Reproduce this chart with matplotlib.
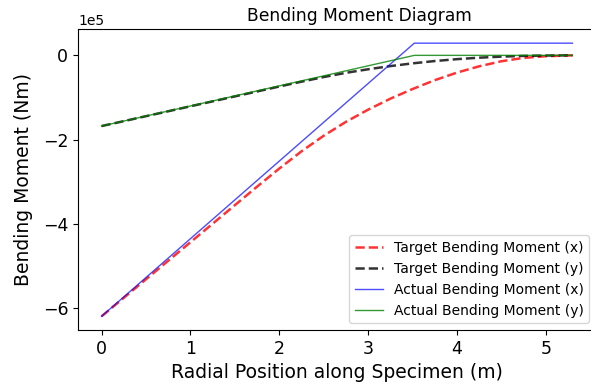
import matplotlib
matplotlib.use("Agg")
import matplotlib.pyplot as plt
from matplotlib.ticker import MultipleLocator
import numpy as np

# Radial stations along the specimen (m)
r_target = [0.0, 0.25, 0.5, 0.75, 1.0, 1.25, 1.5, 1.75, 2.0, 2.25, 2.5,
            2.75, 3.0, 3.25, 3.5, 3.75, 4.0, 4.25, 4.5, 4.75, 5.0, 5.3]
# Target bending moments (Nm)
m_target_x = [-6.20e5, -5.76e5, -5.32e5, -4.88e5, -4.44e5, -4.00e5, -3.56e5,
              -3.12e5, -2.69e5, -2.28e5, -1.91e5, -1.58e5, -1.29e5, -1.03e5,
              -0.80e5, -0.59e5, -0.41e5, -0.26e5, -0.14e5, -0.06e5, -0.02e5, 0.0]
m_target_y = [-1.680e5, -1.563e5, -1.445e5, -1.328e5, -1.210e5, -1.093e5,
              -0.975e5, -0.858e5, -0.740e5, -0.625e5, -0.515e5, -0.415e5,
              -0.330e5, -0.255e5, -0.190e5, -0.135e5, -0.090e5, -0.055e5,
              -0.030e5, -0.013e5, -0.004e5, 0.0]

# Actual bending moments (Nm), piecewise linear
r_actual = [0.0, 3.52, 5.3]
m_actual_x = [-6.20e5, 0.29e5, 0.29e5]
m_actual_y = [-1.68e5, 0.0, 0.0]

fig = plt.figure(figsize=(5.91, 3.89), dpi=100)
ax = fig.add_axes([78/591, 59/389, 518/591, 300.5/389])

ax.plot(r_target, m_target_x, '--', color='red', lw=1.8, alpha=0.8, label='Target Bending Moment (x)')
ax.plot(r_target, m_target_y, '--', color='black', lw=1.8, alpha=0.8, label='Target Bending Moment (y)')
ax.plot(r_actual, m_actual_x, color='blue', lw=1, alpha=0.7, label='Actual Bending Moment (x)')
ax.plot(r_actual, m_actual_y, color='green', lw=1, alpha=0.8, label='Actual Bending Moment (y)')

ax.yaxis.set_major_locator(MultipleLocator(2e5))
ax.ticklabel_format(style='sci', axis='y', scilimits=(0, 0))
ax.set_title('Bending Moment Diagram', fontsize=12.3, x=0.544)
ax.set_xlabel('Radial Position along Specimen (m)', fontsize=13.5)
ax.set_ylabel('Bending Moment (Nm)', fontsize=13.5, labelpad=7)
ax.tick_params(labelsize=12.5)
ax.legend(loc='lower right', fontsize=10)

fig.savefig('out.png', dpi=100)
